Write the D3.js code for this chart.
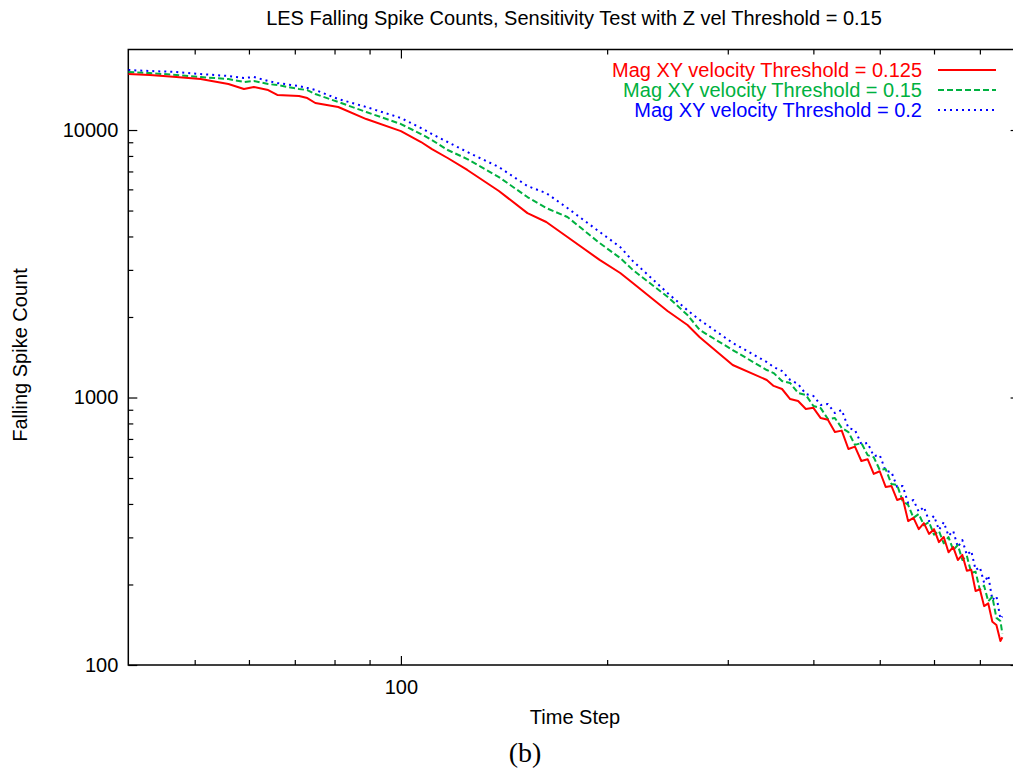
<!DOCTYPE html>
<html lang="en">

<head>
    <meta charset="UTF-8">
    <title>LES Falling Spike Counts</title>
    <script src="https://d3js.org/d3.v7.min.js"></script>
    <style>
        body {
            margin: 0;
            background: #fff;
        }

        svg {
            display: block;
            font-family: "Liberation Sans", Arial, sans-serif;
        }

        .axis path {
            display: none;
        }

        .axis line {
            stroke: #000;
            stroke-width: 1.2;
        }

        .axis text {
            font-size: 20px;
            fill: #000;
            font-family: "Liberation Sans", Arial, sans-serif;
        }
    </style>
</head>

<body>

    <svg id="chart" width="1013" height="774"></svg>

    <script>
        // time steps shared by all three runs
        const timeSteps = [40, 43, 47, 51, 56, 59, 61, 64, 66, 71, 73, 75, 81, 89, 100, 107, 111, 117, 125, 139,
            153, 163, 175, 195, 209, 218, 245, 262, 273, 305, 342,
            350, 360, 370, 380, 390, 400, 410, 420, 430, 440, 450, 460, 470, 480, 490, 500, 510, 520, 530, 540,
            550, 560, 570, 580, 590, 600, 610, 620, 630, 640, 650, 660, 670, 680, 690, 700, 710, 720, 730, 740,
            750, 755];

        // falling spike counts, Mag XY velocity threshold = 0.125
        const counts0125 = [16200, 16060, 15780, 15510, 14860, 14230, 14480, 14110, 13520, 13400, 13170, 12620, 12190, 10990, 9910, 9020, 8490, 7860, 7090, 5915,
            4890, 4530, 3980, 3270, 2920, 2680, 2106, 1867, 1680, 1323, 1163,
            1105, 1076, 987, 970, 906, 915, 838, 826, 743, 752, 642, 655, 579, 588, 518, 530, 463, 467, 414, 421,
            345, 355, 322, 339, 309, 322, 288, 301, 264, 276, 247, 258, 225, 227, 189, 192, 166, 170, 145, 141,
            123, 127];

        // threshold = 0.15
        const counts015 = [16480, 16330, 16060, 15780, 15510, 15120, 15250, 14860, 14730, 14230, 14110, 13630, 12730, 11680, 10530, 9660, 9175, 8420, 7790, 6670,
            5616, 5110, 4730, 3780, 3322, 3000, 2380, 2035, 1788, 1505, 1267,
            1234, 1153, 1133, 1039, 1022, 930, 913, 831, 838, 769, 743, 665, 676, 609, 598, 536, 540, 475, 471, 410,
            397, 355, 367, 333, 342, 307, 317, 285, 301, 269, 281, 247, 256, 221, 223, 191, 198, 173, 180, 150,
            146, 131];

        // threshold = 0.2
        const counts02 = [16760, 16620, 16480, 16190, 15920, 15650, 15780, 15250, 14990, 14600, 14360, 14110, 13060, 12190, 11090, 10170, 9660, 9020, 8275, 7270,
            6175, 5810, 5110, 4160, 3650, 3240, 2459, 2120, 1950, 1600, 1357,
            1300, 1256, 1163, 1123, 1031, 1014, 938, 946, 875, 898, 769, 756, 670, 676, 604, 609, 531, 527, 463, 467,
            403, 414, 374, 390, 345, 361, 320, 342, 304, 317, 276, 293, 258, 267, 227, 232, 203, 216, 175, 181,
            149, 152];

        const seriesNames = ["Mag XY velocity Threshold = 0.125", "Mag XY velocity Threshold = 0.15", "Mag XY velocity Threshold = 0.2"];

        const yTickValues = [100, 1000, 10000];
        const yMinorValues = [200, 300, 400, 500, 600, 700, 800, 900, 2000, 3000, 4000, 5000, 6000, 7000, 8000, 9000];
        const xTickValues = [100];
        const xMinorValues = [50, 60, 70, 80, 90, 200, 300, 400, 500, 600, 700];

        const svg = d3.select("#chart");
        svg.append("rect").attr("width", 1013).attr("height", 774).attr("fill", "#fff");

        const plotLeft = 128.3, plotRight = 1019.6, plotTop = 49.5, plotBottom = 665;

        const x = d3.scaleLog().domain([40, 800]).range([plotLeft, plotRight]);
        const y = d3.scaleLog().domain([100, 20000]).range([plotBottom, plotTop]);

        // minor ticks (inward, mirrored)
        svg.append("g").attr("class", "axis").attr("transform", `translate(${plotLeft},0)`)
            .call(d3.axisLeft(y).tickValues(yMinorValues).tickSize(-5).tickFormat(""));
        svg.append("g").attr("class", "axis").attr("transform", `translate(${plotRight},0)`)
            .call(d3.axisRight(y).tickValues(yMinorValues).tickSize(-5).tickFormat(""));
        svg.append("g").attr("class", "axis").attr("transform", `translate(0,${plotBottom})`)
            .call(d3.axisBottom(x).tickValues(xMinorValues).tickSize(-5).tickFormat(""));
        svg.append("g").attr("class", "axis").attr("transform", `translate(0,${plotTop})`)
            .call(d3.axisTop(x).tickValues(xMinorValues).tickSize(-5).tickFormat(""));

        // major ticks
        svg.append("g").attr("class", "axis").attr("transform", `translate(${plotLeft},0)`)
            .call(d3.axisLeft(y).tickValues(yTickValues).tickSize(-9).tickPadding(10).tickFormat(d3.format("d")));
        svg.append("g").attr("class", "axis").attr("transform", `translate(${plotRight},0)`)
            .call(d3.axisRight(y).tickValues(yTickValues).tickSize(-9).tickFormat(""));
        svg.append("g").attr("class", "axis").attr("transform", `translate(0,${plotBottom})`)
            .call(d3.axisBottom(x).tickValues(xTickValues).tickSize(-9).tickPadding(15).tickFormat(d3.format("d")));
        svg.append("g").attr("class", "axis").attr("transform", `translate(0,${plotTop})`)
            .call(d3.axisTop(x).tickValues(xTickValues).tickSize(-9).tickFormat(""));

        // frame
        svg.append("rect")
            .attr("x", plotLeft).attr("y", plotTop)
            .attr("width", plotRight - plotLeft).attr("height", plotBottom - plotTop)
            .attr("fill", "none").attr("stroke", "#000").attr("stroke-width", 1.5);

        svg.append("clipPath").attr("id", "plot-clip")
            .append("rect").attr("x", plotLeft).attr("y", plotTop)
            .attr("width", plotRight - plotLeft).attr("height", plotBottom - plotTop);

        const series = [
            { name: seriesNames[0], values: counts0125, color: "#ff0000", dash: null },
            { name: seriesNames[1], values: counts015, color: "#00b140", dash: "6,3" },
            { name: seriesNames[2], values: counts02, color: "#0000ff", dash: "2,4" }
        ];

        const line = d3.line()
            .x(d => x(d[0]))
            .y(d => y(d[1]));

        // draw blue first so red sits on top
        series.slice().reverse().forEach(s => {
            svg.append("path")
                .datum(timeSteps.map((t, i) => [t, s.values[i]]))
                .attr("clip-path", "url(#plot-clip)")
                .attr("fill", "none")
                .attr("stroke", s.color)
                .attr("stroke-width", 2)
                .attr("stroke-dasharray", s.dash)
                .attr("stroke-linejoin", "round")
                .attr("d", line);
        });

        // legend
        series.forEach((s, i) => {
            const ly = 70 + i * 20;
            svg.append("text")
                .attr("x", 922).attr("y", ly + 7)
                .attr("text-anchor", "end")
                .attr("font-size", 20)
                .attr("fill", s.color)
                .text(s.name);
            svg.append("line")
                .attr("x1", 938).attr("x2", 996)
                .attr("y1", ly).attr("y2", ly)
                .attr("stroke", s.color)
                .attr("stroke-width", 2)
                .attr("stroke-dasharray", s.dash);
        });

        // titles
        svg.append("text")
            .attr("x", 574).attr("y", 25)
            .attr("text-anchor", "middle")
            .attr("font-size", 20)
            .text("LES Falling Spike Counts, Sensitivity Test with Z vel Threshold = 0.15");

        svg.append("text")
            .attr("x", 575).attr("y", 724)
            .attr("text-anchor", "middle")
            .attr("font-size", 20)
            .text("Time Step");

        svg.append("text")
            .attr("transform", "translate(27,355) rotate(-90)")
            .attr("text-anchor", "middle")
            .attr("font-size", 20)
            .text("Falling Spike Count");

        svg.append("text")
            .attr("x", 525).attr("y", 762)
            .attr("text-anchor", "middle")
            .attr("font-size", 28)
            .attr("font-family", "'Liberation Serif', 'DejaVu Serif', serif")
            .text("(b)");
    </script>

</body>

</html>
